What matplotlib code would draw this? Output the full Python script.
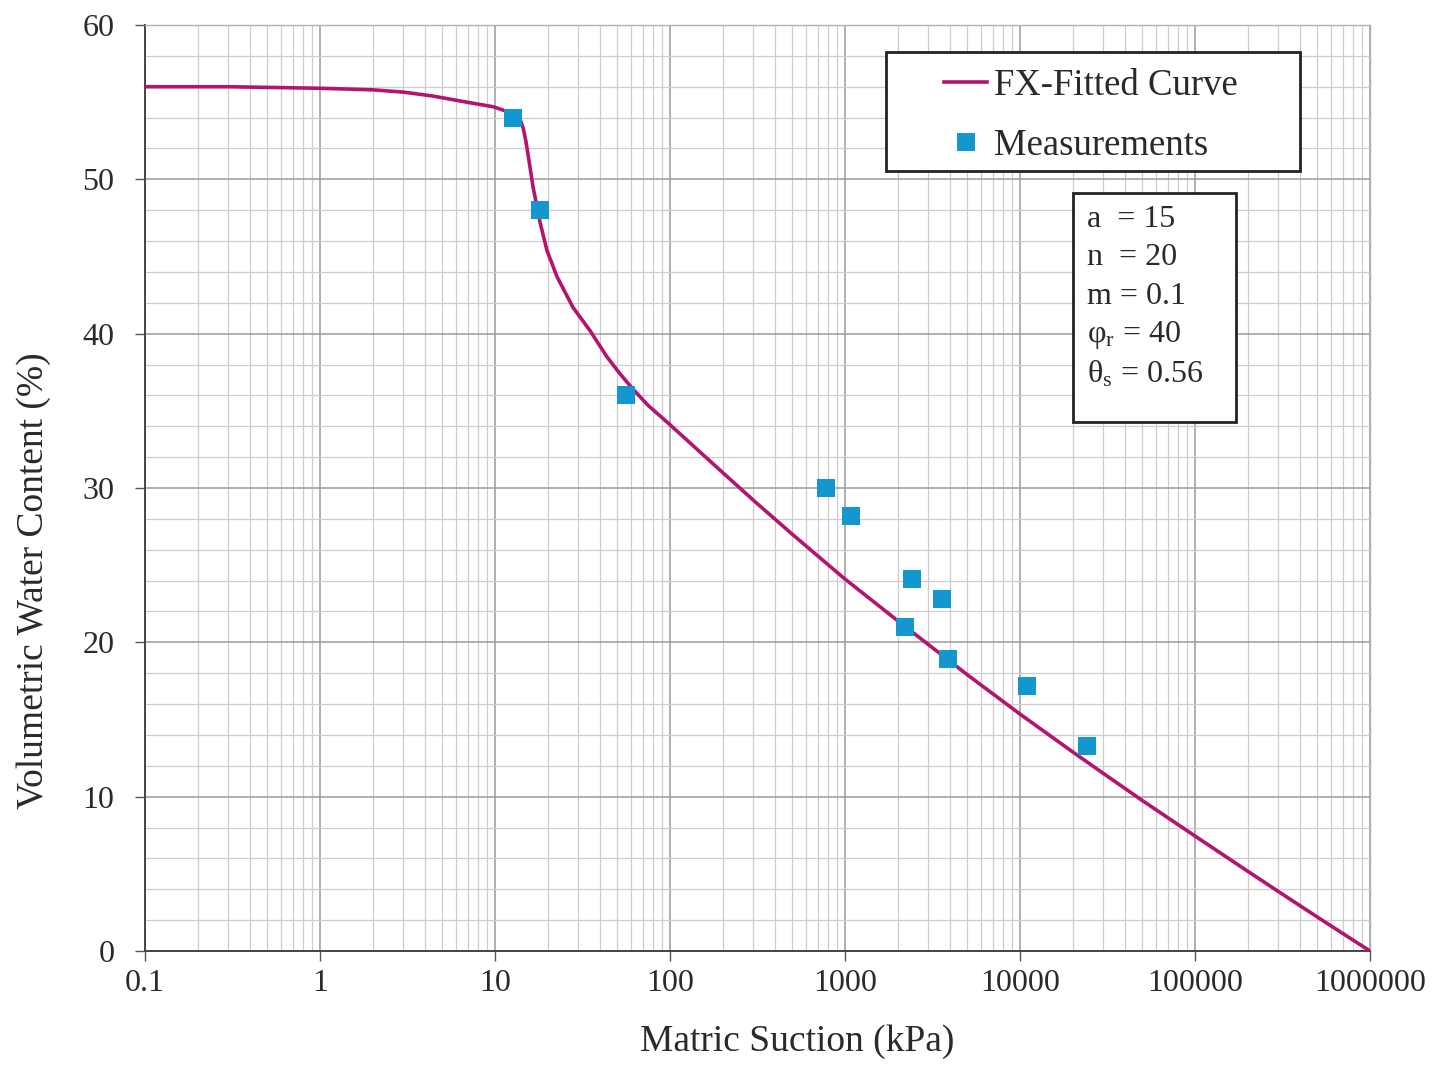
import matplotlib
matplotlib.use("Agg")
import matplotlib.pyplot as plt
from matplotlib.patches import Rectangle
from matplotlib.ticker import FixedLocator, NullFormatter, LogLocator

plt.rcParams["font.family"] = ["Liberation Serif", "DejaVu Serif"]
plt.rcParams["mathtext.fontset"] = "stix"

# Fredlund-Xing fitted curve, sampled along the plotted line
suction_fit = [0.1, 0.3, 1, 2, 3, 4.4, 6.9, 9.8, 11.7, 13, 14, 14.5, 15, 15.5,
               16.5, 18.1, 19.8, 22.6, 27.9, 34.9, 43.6, 51.8, 61.5, 75, 100,
               200, 300, 500, 1000, 2000, 3000, 5000, 10000, 20000, 30000,
               50000, 100000, 200000, 300000, 500000, 1000000]
vwc_fit = [56.0, 56.0, 55.9, 55.8, 55.65, 55.4, 55.0, 54.7, 54.4, 54.0, 53.8,
           53.3, 52.5, 51.5, 49.5, 47.2, 45.4, 43.7, 41.7, 40.2, 38.5, 37.4,
           36.4, 35.35, 34.1, 31.0, 29.2, 27.0, 24.1, 21.4, 19.85, 17.9, 15.35,
           12.9, 11.5, 9.75, 7.45, 5.17, 3.85, 2.2, 0.0]

# laboratory measurements
suction_meas = [12.7, 18.1, 56, 780, 1080, 2410, 2200, 3580, 3880, 10970, 24150]
vwc_meas = [54.0, 48.0, 36.0, 30.0, 28.2, 24.1, 21.0, 22.8, 18.9, 17.2, 13.3]

x_ticks = [0.1, 1, 10, 100, 1000, 10000, 100000, 1000000]
x_tick_labels = ["0.1", "1", "10", "100", "1000", "10000", "100000", "1000000"]
y_ticks = [0, 10, 20, 30, 40, 50, 60]

params = ["a  = 15", "n  = 20", "m = 0.1",
          r"φ$_\mathregular{r}$ = 40", r"θ$_\mathregular{s}$ = 0.56"]

CURVE_COLOR = "#B3146F"
MARKER_COLOR = "#1496CF"
TEXT_COLOR = "#2a2a2a"
W, H = 1435, 1067


def main() -> None:
    fig = plt.figure(figsize=(W / 100, H / 100), dpi=100)
    ax = fig.add_axes([145 / W, 1 - 951 / H, 1225 / W, 926 / H])

    ax.plot(suction_fit, vwc_fit, color=CURVE_COLOR, linewidth=2.6,
            label="FX-Fitted Curve", zorder=3)
    ax.plot(suction_meas, vwc_meas, linestyle="none", marker="s",
            markersize=13, color=MARKER_COLOR, markeredgewidth=0,
            label="Measurements", zorder=4)

    ax.set_xscale("log")
    ax.set_xlim(0.1, 1000000)
    ax.set_ylim(0, 60)

    ax.xaxis.set_major_locator(FixedLocator(x_ticks))
    ax.set_xticklabels(x_tick_labels)
    ax.xaxis.set_minor_locator(LogLocator(base=10, subs=range(2, 10), numticks=20))
    ax.xaxis.set_minor_formatter(NullFormatter())
    ax.set_yticks(y_ticks)
    ax.set_yticks(range(0, 61, 2), minor=True)

    ax.tick_params(axis="both", which="major", labelsize=23, direction="out",
                   length=7, width=1.0, color="#555555", labelcolor=TEXT_COLOR)
    ax.tick_params(axis="x", which="major", pad=6)
    ax.tick_params(axis="y", which="major", pad=15)
    ax.tick_params(which="minor", length=0)

    ax.grid(which="major", color="#9a9a9a", linewidth=1.1)
    ax.grid(which="minor", color="#cdcdcd", linewidth=0.9)
    ax.set_axisbelow(True)

    for side in ("top", "right"):
        ax.spines[side].set_color("#b0b0b0")
        ax.spines[side].set_linewidth(1.0)
    for side in ("left", "bottom"):
        ax.spines[side].set_color("#444444")
        ax.spines[side].set_linewidth(1.4)

    fig.text(797 / W, 1 - 1042 / H, "Matric Suction (kPa)", fontsize=27,
             color=TEXT_COLOR, ha="center", va="center")
    fig.text(34 / W, 1 - 581 / H, "Volumetric Water Content (%)", fontsize=27,
             color=TEXT_COLOR, ha="center", va="center", rotation=90)

    # legend inside a square black frame
    ax.add_patch(Rectangle((886 / W, 1 - 171 / H), 414 / W, 119 / H,
                           transform=fig.transFigure, facecolor="white",
                           edgecolor="#222222", linewidth=2.0, zorder=5,
                           clip_on=False))
    leg = ax.legend(loc="center left", bbox_to_anchor=(944 / W, 1 - 115.5 / H),
                    bbox_transform=fig.transFigure, frameon=False, fontsize=26.5,
                    handlelength=1.17, handletextpad=0.19, labelspacing=0.7,
                    borderpad=0, borderaxespad=0)
    leg.set_zorder(10)
    for t in leg.get_texts():
        t.set_color(TEXT_COLOR)

    # fitting parameters box
    ax.add_patch(Rectangle((1073 / W, 1 - 422 / H), 163 / W, 229 / H,
                           transform=fig.transFigure, facecolor="white",
                           edgecolor="#222222", linewidth=2.0, zorder=5,
                           clip_on=False))
    for i, s in enumerate(params):
        ax.text(1087 / W, 1 - (219 + 38.8 * i) / H, s, fontsize=23,
                color=TEXT_COLOR, ha="left", va="center", zorder=11,
                transform=fig.transFigure)

    fig.savefig("out.png", dpi=100)


if __name__ == "__main__":
    main()
